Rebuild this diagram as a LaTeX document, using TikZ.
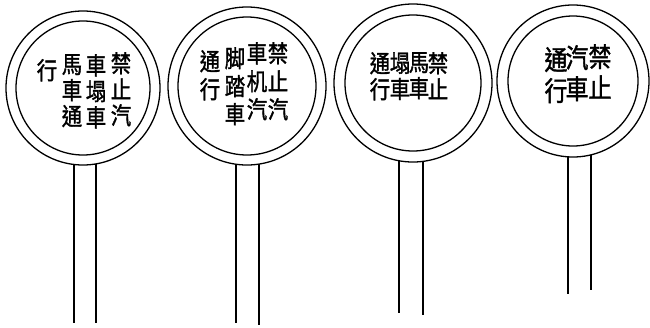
\documentclass[tikz,border=0pt]{standalone}
\usepackage{fontspec}
\newfontfamily\cjk[FakeStretch=0.85, FakeBold=1.5]{Noto Sans CJK TC}
\usepackage{tikz}
\usetikzlibrary{positioning}

\begin{document}
\begin{tikzpicture}[x=1pt, y=-1pt,
    rim/.style={draw=black, line width=1.3pt},
    pole/.style={draw=black, line width=1.1pt},
    glyphs/.style={font=\cjk\fontsize{24}{26}\selectfont, align=center, inner sep=0pt, anchor=north},
    tallglyphs/.style={glyphs, font=\cjk\fontsize{24}{28}\selectfont},
    bigglyphs/.style={glyphs, font=\cjk\fontsize{27}{31}\selectfont}]
    \useasboundingbox (0,0) rectangle (650,327);

    % Sign 1
    \draw[pole] (74,90) -- (74,323);
    \draw[pole] (96,90) -- (96,323);
    \filldraw[rim, fill=white] (83,88) circle (77);
    \draw[rim] (83,88) circle (67);
    \node[glyphs] (s1c1) at (121,52) {禁\\止\\汽};
    \node[glyphs] (s1c2) at (96,54) {車\\塌\\車};
    \node[glyphs] (s1c3) at (72,54) {馬\\車\\通};
    \node[glyphs] (s1c4) at (47,59) {行};

    % Sign 2
    \draw[pole] (236,90) -- (236,323);
    \draw[pole] (259,90) -- (259,325);
    \filldraw[rim, fill=white] (247,86) circle (79);
    \draw[rim] (247,86) circle (69);
    \node[tallglyphs] (s2c1) at (278,42) {禁\\止\\汽};
    \node[tallglyphs] (s2c2) at (257,42) {車\\机\\汽};
    \node[tallglyphs] (s2c3) at (235,47) {脚\\踏\\車};
    \node[tallglyphs] (s2c4) at (210,50) {通\\行};

    % Sign 3
    \draw[pole] (399,90) -- (399,313);
    \draw[pole] (423,90) -- (423,315);
    \filldraw[rim, fill=white] (413,83) circle (79);
    \draw[rim] (413,83) circle (68);
    \node[glyphs] (s3c1) at (438,52) {禁\\止};
    \node[glyphs] (s3c2) at (419,52) {馬\\車};
    \node[glyphs] (s3c3) at (400,52) {塌\\車};
    \node[glyphs] (s3c4) at (380,52) {通\\行};

    % Sign 4
    \draw[pole] (568,90) -- (568,294);
    \draw[pole] (591,90) -- (591,290);
    \filldraw[rim, fill=white] (573,81) circle (76);
    \draw[rim] (573,81) circle (65);
    \node[bigglyphs] (s4c1) at (600,44) {禁\\止};
    \node[bigglyphs] (s4c2) at (577,45) {汽\\車};
    \node[bigglyphs] (s4c3) at (556,47) {通\\行};
\end{tikzpicture}
\end{document}
